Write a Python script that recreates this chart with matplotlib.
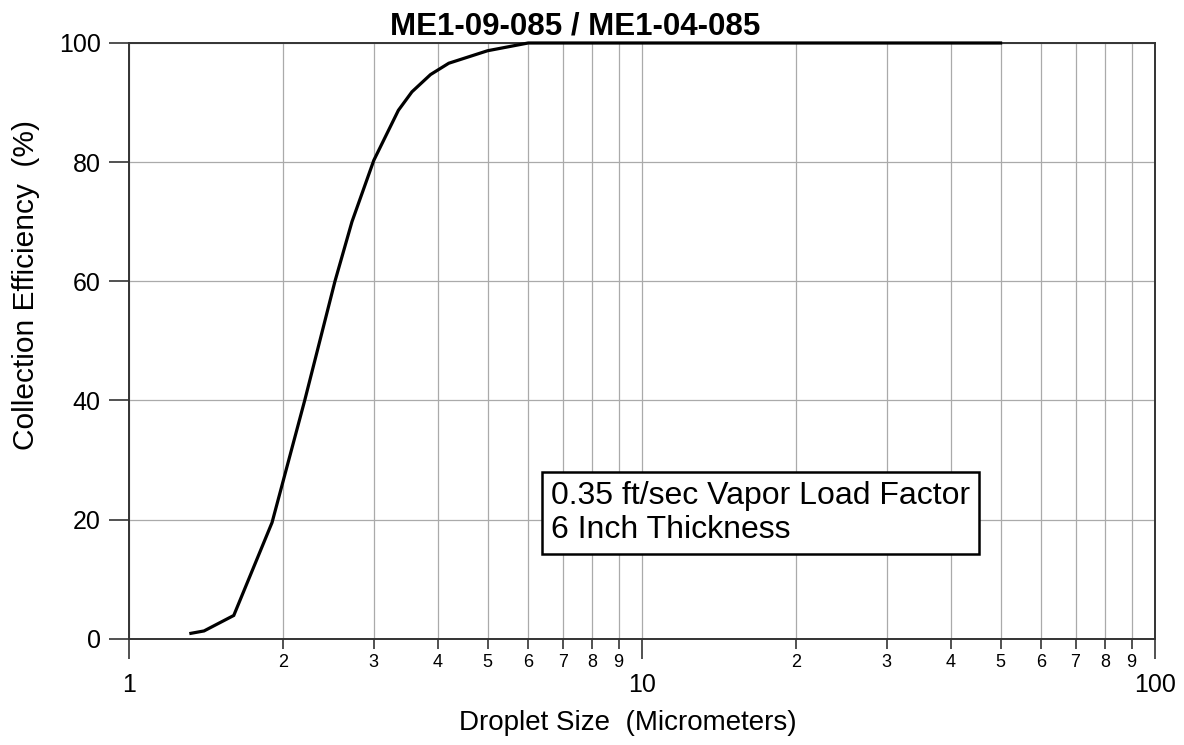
import matplotlib.pyplot as plt
from matplotlib.ticker import FuncFormatter, FixedLocator

plt.rcParams['font.family'] = ['Liberation Sans', 'DejaVu Sans']

# Droplet size (micrometers) and collection efficiency (%)
droplet_size = [1.32, 1.40, 1.60, 1.90, 2.20, 2.52, 2.72, 3.00, 3.17, 3.35,
                3.56, 3.87, 4.20, 5.00, 6.00, 50.0]
efficiency = [0.9, 1.3, 3.9, 19.5, 40.0, 60.0, 70.0, 80.3, 84.5, 88.7,
              91.8, 94.7, 96.6, 98.7, 100.0, 100.0]

y_ticks = [0, 20, 40, 60, 80, 100]
major_x = [1, 10, 100]
minor_x = [2, 3, 4, 5, 6, 7, 8, 9, 20, 30, 40, 50, 60, 70, 80, 90]

fig = plt.figure(figsize=(11.84, 7.45), dpi=100)
ax = fig.add_axes([0.109, 0.1427, 0.8665, 0.7996])

ax.plot(droplet_size, efficiency, color='black', linewidth=2.3,
        solid_joinstyle='miter', clip_on=False, zorder=5)

ax.set_xscale('log')
ax.set_xlim(1, 100)
ax.set_ylim(0, 100)

ax.xaxis.set_major_locator(FixedLocator(major_x))
ax.xaxis.set_minor_locator(FixedLocator(minor_x))
ax.xaxis.set_major_formatter(FuncFormatter(lambda v, p: '%g' % v))
ax.xaxis.set_minor_formatter(FuncFormatter(lambda v, p: str(int(round(v / 10 ** int(v >= 10))))))
ax.set_yticks(y_ticks)

ax.tick_params(axis='x', which='major', direction='out', length=14.4, width=1.2,
               labelsize=18, pad=10, color='#333333')
ax.tick_params(axis='x', which='minor', direction='out', length=7.2, width=1.2,
               labelsize=13, pad=4, color='#333333')
ax.tick_params(axis='y', which='major', direction='out', length=14.4, width=1.2,
               labelsize=18, pad=6, color='#333333')

ax.grid(True, which='both', axis='x', color='#aaaaaa', linewidth=0.9)
ax.grid(True, which='major', axis='y', color='#aaaaaa', linewidth=0.9)
ax.set_axisbelow(True)

for side in ['left', 'right', 'top', 'bottom']:
    ax.spines[side].set_color('#333333')
    ax.spines[side].set_linewidth(1.4)

ax.set_title('ME1-09-085 / ME1-04-085', fontsize=22.5, fontweight='bold',
             x=0.435, pad=6)
ax.set_xlabel('Droplet Size  (Micrometers)', fontsize=20)
ax.xaxis.set_label_coords(0.486, -0.119)
ax.set_ylabel('Collection Efficiency  (%)', fontsize=21.5)
ax.yaxis.set_label_coords(-0.087, 0.594)

ax.text(0.411, 0.211, '0.35 ft/sec Vapor Load Factor\n6 Inch Thickness',
        transform=ax.transAxes, fontsize=23, ha='left', va='center',
        linespacing=1.2, zorder=6,
        bbox=dict(boxstyle='square,pad=0.28', facecolor='white',
                  edgecolor='black', linewidth=1.8))

plt.savefig('out.png', dpi=100)
